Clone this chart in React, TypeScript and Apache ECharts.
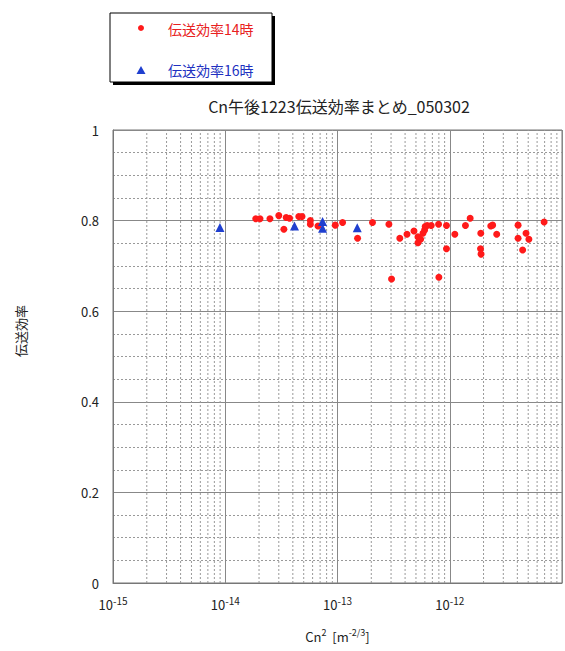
import React, { useEffect, useRef } from "react";
import * as echarts from "echarts";

const titleText = "Cn午後1223伝送効率まとめ_050302";
const legendNames = ["伝送効率14時", "伝送効率16時"];
const yAxisName = "伝送効率";

// 伝送効率14時 (red circles)
const red14X = [
  1.87e-14, 2.04e-14, 2.5e-14, 3.0e-14, 3.49e-14, 3.74e-14, 3.33e-14, 4.52e-14, 4.83e-14,
  5.73e-14, 5.73e-14, 6.7e-14, 9.55e-14, 1.11e-13, 1.51e-13, 2.05e-13, 2.87e-13, 3.03e-13,
  3.59e-13, 4.16e-13, 4.8e-13, 5.21e-13, 5.21e-13, 5.5e-13, 5.77e-13, 5.97e-13, 6.04e-13,
  6.29e-13, 6.84e-13, 7.95e-13, 8.0e-13, 9.35e-13, 9.35e-13, 1.11e-12, 1.38e-12, 1.52e-12,
  1.89e-12, 1.88e-12, 1.9e-12, 2.32e-12, 2.41e-12, 2.62e-12, 4.06e-12, 4.06e-12, 4.78e-12,
  4.46e-12, 5.07e-12, 6.93e-12,
];
const red14Y = [
  0.804, 0.804, 0.804, 0.811, 0.807, 0.805, 0.781, 0.809, 0.809,
  0.8, 0.792, 0.788, 0.79, 0.796, 0.761, 0.796, 0.792, 0.671,
  0.761, 0.77, 0.777, 0.764, 0.751, 0.759, 0.772, 0.779, 0.787,
  0.789, 0.789, 0.792, 0.675, 0.789, 0.738, 0.77, 0.789, 0.805,
  0.772, 0.738, 0.726, 0.788, 0.79, 0.77, 0.79, 0.761, 0.772,
  0.735, 0.759, 0.797,
];

// 伝送効率16時 (blue triangles)
const blue16X = [8.97e-15, 4.14e-14, 7.36e-14, 7.36e-14, 1.5e-13];
const blue16Y = [0.785, 0.788, 0.798, 0.783, 0.784];

// minor vertical grid positions (2..9 x each decade)
const decades = [1e-15, 1e-14, 1e-13, 1e-12];
const minorMultipliers = [2, 3, 4, 5, 6, 7, 8, 9];

const FONT = "'Noto Sans CJK JP', 'Noto Sans', sans-serif";

export default function App() {
  const ref = useRef<HTMLDivElement>(null);

  useEffect(() => {
    document.body.style.margin = "0";
    if (!ref.current) return;
    const chart = echarts.init(ref.current, null, { renderer: "svg" });

    const redData = red14X.map((x, i) => [x, red14Y[i]]);
    const blueData = blue16X.map((x, i) => [x, blue16Y[i]]);
    const minorLines: number[][] = [];
    decades.forEach((d) =>
      minorMultipliers.forEach((m) => minorLines.push([+(d * m).toPrecision(3), 0]))
    );

    const option: any = {
      animation: false,
      backgroundColor: "#ffffff",
      textStyle: { fontFamily: FONT },
      title: {
        text: titleText,
        left: 334,
        textAlign: "center",
        top: 93,
        textStyle: { fontSize: 16, fontWeight: "normal", color: "#222", fontFamily: FONT },
      },
      grid: {
        left: 113,
        right: 0,
        top: 130,
        bottom: 68,
        show: true,
        borderColor: "#777",
        borderWidth: 1,
      },
      xAxis: {
        type: "log",
        logBase: 10,
        min: 1e-15,
        max: 1e-11,
        splitNumber: 4,
        name: "Cn{sup|2}  [m{sup|-2/3}]",
        nameLocation: "middle",
        nameGap: 45,
        nameTextStyle: {
          fontSize: 13,
          color: "#222",
          fontFamily: FONT,
          rich: { sup: { fontSize: 9, verticalAlign: "top", padding: [0, 0, 8, 0], color: "#222" } },
        },
        axisLine: { show: true, lineStyle: { color: "#777" } },
        axisTick: { show: false },
        splitLine: { show: true, lineStyle: { color: "#888", width: 1 } },
        axisLabel: {
          margin: 12,
          color: "#222",
          fontSize: 13,
          fontFamily: FONT,
          formatter: (v: number) => {
            const e = Math.round(Math.log10(v));
            if (e > -12) return "";
            return "10{sup|" + e + "}";
          },
          rich: { sup: { fontSize: 10, verticalAlign: "top", padding: [0, 0, 8, 0], color: "#222" } },
        },
      },
      yAxis: {
        type: "value",
        min: 0,
        max: 1,
        interval: 0.2,
        axisLine: { show: true, lineStyle: { color: "#777" } },
        axisTick: { show: false },
        axisLabel: { margin: 14, color: "#222", fontSize: 13, fontFamily: FONT },
        splitLine: { show: true, lineStyle: { color: "#888", width: 1 } },
        minorTick: { show: false, splitNumber: 4 },
        minorSplitLine: { show: true, lineStyle: { color: "#999", type: [2, 2], width: 1 } },
      },
      series: [
        {
          type: "custom",
          silent: true,
          z: 1,
          data: minorLines,
          renderItem: (_params: any, api: any) => {
            const x = api.value(0);
            const p0 = api.coord([x, 0]);
            const p1 = api.coord([x, 1]);
            return {
              type: "line",
              shape: { x1: p0[0], y1: p0[1], x2: p1[0], y2: p1[1] },
              style: { stroke: "#999", lineWidth: 1, lineDash: [2, 2] },
            };
          },
        },
        {
          name: legendNames[0],
          type: "scatter",
          symbol: "circle",
          symbolSize: 7,
          z: 3,
          itemStyle: { color: "#ff1a1a", opacity: 1 },
          data: redData,
        },
        {
          name: legendNames[1],
          type: "scatter",
          symbol: "triangle",
          symbolSize: 9,
          z: 4,
          itemStyle: { color: "#1f3fcf", opacity: 1 },
          data: blueData,
        },
      ],
      graphic: [
        { type: "rect", shape: { x: 113, y: 16, width: 162, height: 69 }, style: { fill: "#000" } },
        {
          type: "rect",
          shape: { x: 110, y: 13, width: 162, height: 69 },
          style: { fill: "#fff", stroke: "#000", lineWidth: 1 },
        },
        { type: "circle", shape: { cx: 141, cy: 28, r: 3 }, style: { fill: "#ff1a1a" } },
        {
          type: "text",
          x: 168,
          y: 29,
          style: {
            text: legendNames[0],
            fill: "#e82020",
            fontSize: 14,
            fontFamily: FONT,
            verticalAlign: "middle",
          },
        },
        {
          type: "polygon",
          shape: { points: [[141, 66], [136.5, 74], [145.5, 74]] },
          style: { fill: "#1f3fcf" },
        },
        {
          type: "text",
          x: 168,
          y: 70,
          style: {
            text: legendNames[1],
            fill: "#2030c0",
            fontSize: 14,
            fontFamily: FONT,
            verticalAlign: "middle",
          },
        },
        {
          type: "text",
          x: 20,
          y: 331,
          rotation: Math.PI / 2,
          style: {
            text: yAxisName,
            fill: "#222",
            fontSize: 13,
            fontFamily: FONT,
            align: "center",
            verticalAlign: "middle",
          },
        },
      ],
    };

    chart.setOption(option);
    return () => chart.dispose();
  }, []);

  return <div ref={ref} style={{ width: 565, height: 651 }} />;
}
